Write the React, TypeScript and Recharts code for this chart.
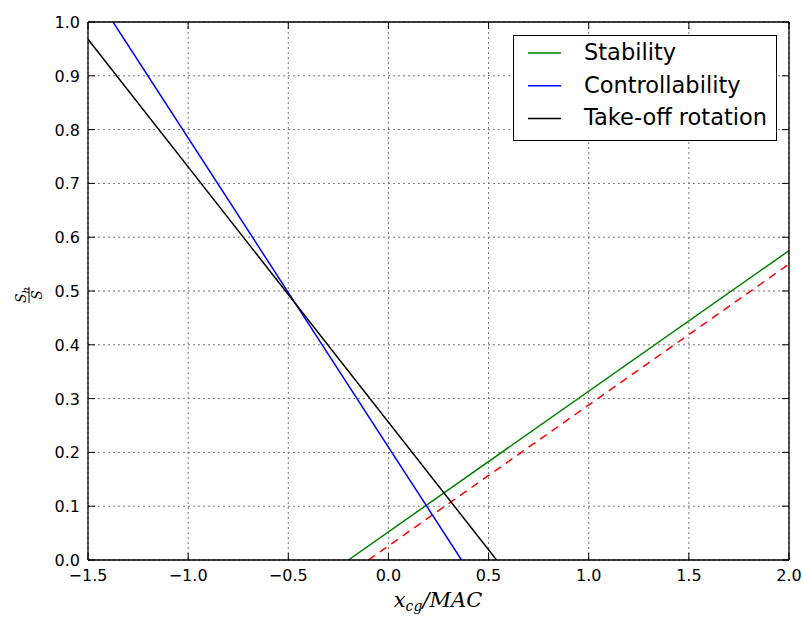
import React from 'react';
import { LineChart, Line, XAxis, YAxis, CartesianGrid } from 'recharts';

const xTicks = [-1.5, -1.0, -0.5, 0.0, 0.5, 1.0, 1.5, 2.0];
const yTicks = [0.0, 0.1, 0.2, 0.3, 0.4, 0.5, 0.6, 0.7, 0.8, 0.9, 1.0];

// endpoints (x_cg/MAC, Sh/S)
const stability = [
  { x: -0.2, y: 0.0 },
  { x: 2.0, y: 0.575 },
];
const stabilityMargin = [
  { x: -0.1, y: 0.0 },
  { x: 2.0, y: 0.55 },
];
const controllability = [
  { x: -1.375, y: 1.0 },
  { x: 0.365, y: 0.0 },
];
const takeOffRotation = [
  { x: -1.5, y: 0.968 },
  { x: 0.54, y: 0.0 },
];

const legendItems = [
  { label: 'Stability', color: '#008000' },
  { label: 'Controllability', color: '#0000ff' },
  { label: 'Take-off rotation', color: '#000000' },
];

const FONT = '"DejaVu Sans", sans-serif';
const fmt = (v: number) => v.toFixed(1).replace('-', '\u2212');

const BottomTick = ({ x, y, payload }: any) => (
  <g>
    <line x1={x} x2={x} y1={y} y2={y - 7} stroke="#000" />
    <text x={x} y={y + 21} textAnchor="middle" fontSize={16} fontFamily={FONT} fill="#000">
      {fmt(payload.value)}
    </text>
  </g>
);

const TopTick = ({ x, y }: any) => <line x1={x} x2={x} y1={y} y2={y + 7} stroke="#000" />;

const LeftTick = ({ x, y, payload }: any) => (
  <g>
    <line x1={x} x2={x + 7} y1={y} y2={y} stroke="#000" />
    <text x={x - 8} y={y + 6} textAnchor="end" fontSize={16} fontFamily={FONT} fill="#000">
      {fmt(payload.value)}
    </text>
  </g>
);

const RightTick = ({ x, y }: any) => <line x1={x - 7} x2={x} y1={y} y2={y} stroke="#000" />;

const XLabel = () => (
  <text x={438} y={607} textAnchor="middle" fontFamily='"DejaVu Serif", serif' fontStyle="italic" fontSize={21} fill="#000">
    x<tspan fontSize={14} dy={4}>cg</tspan>
    <tspan fontSize={21} dy={-4}>/MAC</tspan>
  </text>
);

const YLabel = () => (
  <g transform="translate(29, 295) rotate(-90)">
    <text x={0} y={-3} textAnchor="middle" fontFamily='"DejaVu Serif", serif' fontStyle="italic" fontSize={14} fill="#000">
      S<tspan fontSize={10} dy={3}>h</tspan>
    </text>
    <line x1={-8} x2={8} y1={0} y2={0} stroke="#000" strokeWidth={1} />
    <text x={0} y={13} textAnchor="middle" fontFamily='"DejaVu Serif", serif' fontStyle="italic" fontSize={14} fill="#000">
      S
    </text>
  </g>
);

const LegendBox = () => (
  <svg width={264} height={106} style={{ position: 'absolute', left: 513, top: 35 }}>
    <rect x={0.5} y={0.5} width={263} height={105} fill="#fff" stroke="#000" />
    {legendItems.map((item, i) => (
      <g key={item.label}>
        <line x1={15} x2={48} y1={18 + i * 32.7} y2={18 + i * 32.7} stroke={item.color} strokeWidth={1.5} />
        <text x={71} y={25 + i * 32.7} fontSize={22.5} fontFamily={FONT} fill="#000">
          {item.label}
        </text>
      </g>
    ))}
  </svg>
);

export default function App() {
  return (
    <div style={{ position: 'absolute', left: 0, top: 0, width: 803, height: 619, background: '#fff' }}>
      <LineChart width={803} height={619} margin={{ top: 21, right: 13, bottom: 0, left: 0 }}>
        <CartesianGrid stroke="#777" strokeDasharray="2 3" />
        <XAxis
          type="number"
          dataKey="x"
          domain={[-1.5, 2.0]}
          ticks={xTicks}
          interval={0}
          allowDataOverflow
          height={59}
          tickSize={0}
          tickMargin={0}
          tickLine={false}
          tick={<BottomTick />}
          axisLine={{ stroke: '#000', strokeWidth: 1.3 }}
          label={<XLabel />}
        />
        <XAxis
          xAxisId="top"
          orientation="top"
          type="number"
          dataKey="x"
          domain={[-1.5, 2.0]}
          ticks={xTicks}
          interval={0}
          allowDataOverflow
          height={1}
          tickSize={0}
          tickMargin={0}
          tickLine={false}
          tick={<TopTick />}
          axisLine={{ stroke: '#000', strokeWidth: 1.3 }}
        />
        <YAxis
          type="number"
          domain={[0, 1]}
          ticks={yTicks}
          interval={0}
          allowDataOverflow
          width={88}
          tickSize={0}
          tickMargin={0}
          tickLine={false}
          tick={<LeftTick />}
          axisLine={{ stroke: '#000', strokeWidth: 1.3 }}
          label={<YLabel />}
        />
        <YAxis
          yAxisId="right"
          orientation="right"
          type="number"
          domain={[0, 1]}
          ticks={yTicks}
          interval={0}
          allowDataOverflow
          width={1}
          tickSize={0}
          tickMargin={0}
          tickLine={false}
          tick={<RightTick />}
          axisLine={{ stroke: '#000', strokeWidth: 1.3 }}
        />
        <Line data={stability} dataKey="y" name="Stability" stroke="#008000" strokeWidth={1.5} dot={false} isAnimationActive={false} />
        <Line data={stabilityMargin} dataKey="y" name="margin" stroke="#ff0000" strokeWidth={1.5} strokeDasharray="8 6" dot={false} isAnimationActive={false} />
        <Line data={controllability} dataKey="y" name="Controllability" stroke="#0000ff" strokeWidth={1.5} dot={false} isAnimationActive={false} />
        <Line data={takeOffRotation} dataKey="y" name="Take-off rotation" stroke="#000000" strokeWidth={1.5} dot={false} isAnimationActive={false} />
      </LineChart>
      <LegendBox />
    </div>
  );
}
